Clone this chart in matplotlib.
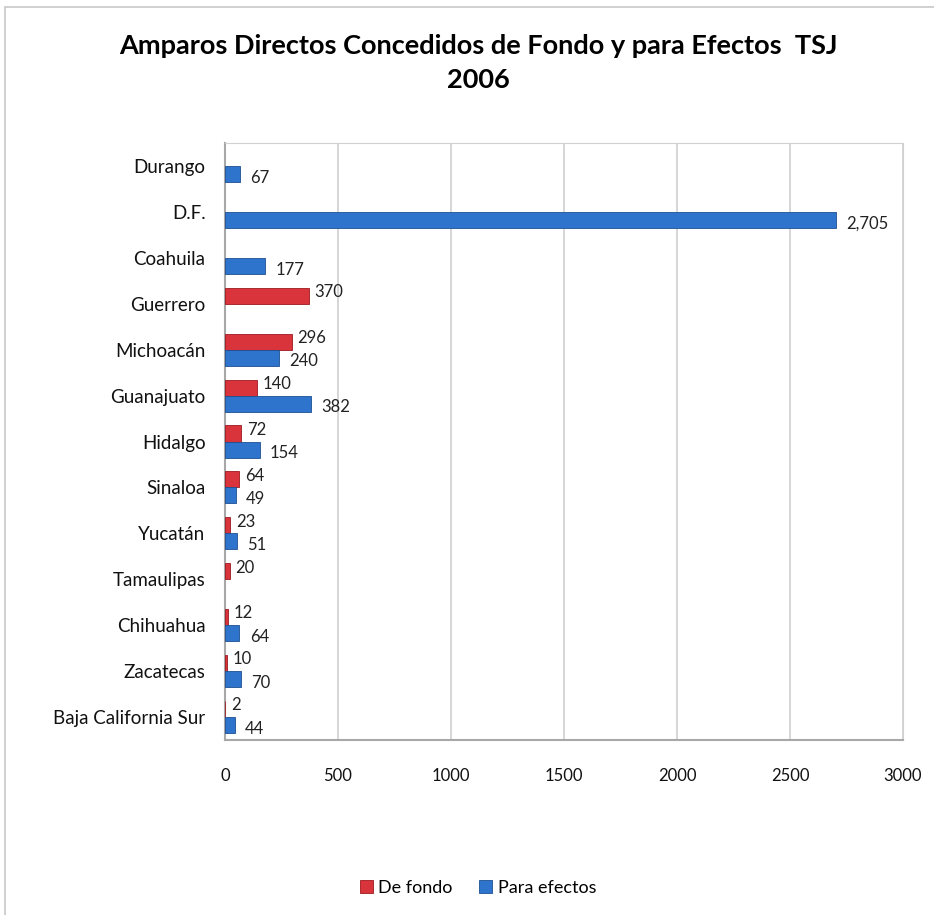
import matplotlib.pyplot as plt
import numpy as np

plt.rcParams['font.family'] = ['Lato', 'DejaVu Sans']

estados = ['Durango', 'D.F.', 'Coahuila', 'Guerrero', 'Michoacán', 'Guanajuato',
           'Hidalgo', 'Sinaloa', 'Yucatán', 'Tamaulipas', 'Chihuahua',
           'Zacatecas', 'Baja California Sur']
de_fondo = [None, None, None, 370, 296, 140, 72, 64, 23, 20, 12, 10, 2]
para_efectos = [67, 2705, 177, None, 240, 382, 154, 49, 51, None, 64, 70, 44]

fig = plt.figure(figsize=(9.34, 9.15), dpi=100)
ax = fig.add_axes([225/934, 1-740/915, 678/934, (740-143)/915])

# marco exterior del grafico
fig.patches.append(plt.Rectangle((5/934, -0.01), 1.0, 1-7/915+0.01, transform=fig.transFigure,
                                 fill=False, edgecolor='#c8c8c8', linewidth=1.2))

y = np.arange(len(estados))
h = 0.35
red = '#D9343C'
blue = '#2F74CC'

fondo_vals = [v if v is not None else np.nan for v in de_fondo]
efec_vals = [v if v is not None else np.nan for v in para_efectos]

ax.barh(y - h/2, fondo_vals, height=h, color=red, edgecolor='#9c1a20', linewidth=0.6,
        label='De fondo', zorder=3)
ax.barh(y + h/2, efec_vals, height=h, color=blue, edgecolor='#1d4f91', linewidth=0.6,
        label='Para efectos', zorder=3)

for i in range(len(estados)):
    if de_fondo[i] is not None:
        ax.text(de_fondo[i] + 25, y[i] - h/2 - 0.08, f'{de_fondo[i]:,}', va='center',
                ha='left', fontsize=12, color='#222222')
    if para_efectos[i] is not None:
        ax.text(para_efectos[i] + 45, y[i] + h/2 + 0.08, f'{para_efectos[i]:,}', va='center',
                ha='left', fontsize=12, color='#222222')

ax.set_ylim(len(estados) - 0.5, -0.5)
ax.set_xlim(0, 3000)
ax.set_xticks(np.arange(0, 3001, 500))
ax.set_yticks(y)
ax.set_yticklabels(estados, fontsize=13.5)
ax.tick_params(axis='both', length=0, colors='#111111')
ax.tick_params(axis='x', pad=20, labelsize=12)
ax.tick_params(axis='y', pad=14)
ax.grid(axis='x', color='#d0d0d0', linewidth=1.2, zorder=0)
for s in ['top', 'right']:
    ax.spines[s].set_color('#d0d0d0')
for s in ['left', 'bottom']:
    ax.spines[s].set_color('#a8a8a8')
    ax.spines[s].set_linewidth(1.5)

fig.text(478/934, 1-63/915, 'Amparos Directos Concedidos de Fondo y para Efectos  TSJ\n2006',
         ha='center', va='center', fontsize=19.5, fontweight='bold', linespacing=1.5)

fig.legend(loc='center', bbox_to_anchor=(478/934, 1-888/915), ncol=2, frameon=False,
           fontsize=13, handlelength=0.7, handleheight=0.7, handletextpad=0.3,
           columnspacing=1.5)

fig.savefig('out.png', dpi=100)
